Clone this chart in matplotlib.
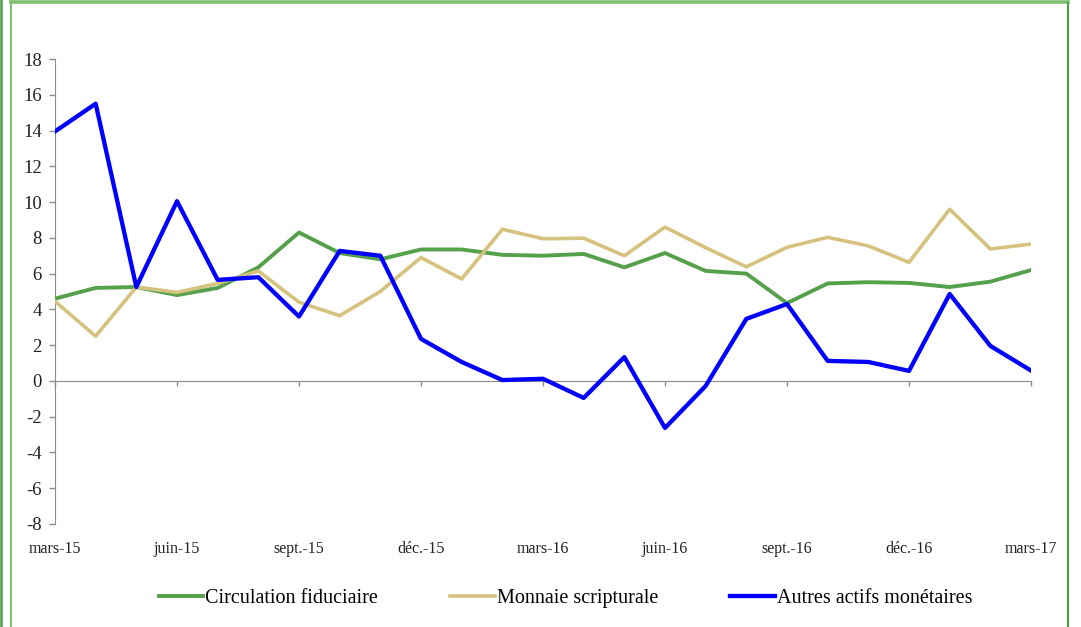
import matplotlib

matplotlib.use("Agg")

import matplotlib.pyplot as plt
from matplotlib.lines import Line2D

# monthly points, mars-15 .. mars-17
months = [
    "mars-15", "avr.-15", "mai-15", "juin-15", "juil.-15", "août-15", "sept.-15",
    "oct.-15", "nov.-15", "déc.-15", "janv.-16", "févr.-16", "mars-16", "avr.-16",
    "mai-16", "juin-16", "juil.-16", "août-16", "sept.-16", "oct.-16", "nov.-16",
    "déc.-16", "janv.-17", "févr.-17", "mars-17",
]
circulation = [
    4.6, 5.2, 5.25, 4.8, 5.2, 6.35, 8.3, 7.15, 6.8, 7.35, 7.35, 7.05, 7.0,
    7.1, 6.35, 7.15, 6.15, 6.0, 4.35, 5.45, 5.52, 5.48, 5.25, 5.55, 6.2,
]
scripturale = [
    4.45, 2.5, 5.25, 4.95, 5.45, 6.15, 4.4, 3.65, 5.0, 6.9, 5.7, 8.48, 7.95,
    7.98, 7.0, 8.6, 7.45, 6.38, 7.47, 8.03, 7.55, 6.63, 9.6, 7.38, 7.65,
]
autres = [
    13.95, 15.5, 5.25, 10.05, 5.65, 5.8, 3.6, 7.27, 7.0, 2.35, 1.06, 0.05, 0.12,
    -0.95, 1.33, -2.63, -0.28, 3.47, 4.3, 1.12, 1.06, 0.56, 4.86, 1.96, 0.58,
]
series_names = ["Circulation fiduciaire", "Monnaie scripturale", "Autres actifs monétaires"]

plt.rcParams["font.family"] = ["Liberation Serif", "DejaVu Serif"]
plt.rcParams["axes.unicode_minus"] = False

axis_grey = "#8c8c8c"

fig = plt.figure(figsize=(10.81, 6.27), dpi=100)
ax = fig.add_axes([55 / 1081, 1 - 524 / 627, (1031 - 55) / 1081, (524 - 59) / 627])

x = list(range(len(months)))
ax.plot(x, circulation, color="#55a04a", linewidth=2.8, label=series_names[0], zorder=3)
ax.plot(x, scripturale, color="#d6c27f", linewidth=2.6, label=series_names[1], zorder=3)
ax.plot(x, autres, color="#0000ff", linewidth=3.1, label=series_names[2], zorder=4)

ax.set_xlim(0, len(months) - 1)
ax.set_ylim(-8, 18)
ax.set_yticks(range(-8, 19, 2))

for side in ("top", "right"):
    ax.spines[side].set_visible(False)
ax.spines["left"].set_color(axis_grey)
ax.spines["bottom"].set_color(axis_grey)
ax.spines["bottom"].set_position(("data", 0))
ax.spines["bottom"].set_zorder(2)

ax.tick_params(axis="y", colors=axis_grey, labelcolor="#222222", labelsize=13.5,
               length=4.5, width=1, pad=5)
ax.set_xticks(x[::3])
ax.tick_params(axis="x", colors=axis_grey, length=3.5, width=1, labelbottom=False)

# month labels sit under the plot, not on the zero line
sec = ax.secondary_xaxis(0)
sec.set_xticks(x[::3])
sec.set_xticklabels(months[::3])
sec.spines["bottom"].set_visible(False)
sec.tick_params(length=0, pad=12, labelsize=11.5, labelcolor="#222222")

fig.legend(loc="center", bbox_to_anchor=(0.523, 0.046), ncol=3, frameon=False,
           prop={"family": ["Liberation Serif"], "size": 14.5},
           handlelength=2.2, handletextpad=0.1, columnspacing=3.6)

# green frame of the original panel
W, H = 1081, 627
fig.add_artist(Line2D([1.2 / W, 1.2 / W], [0, 1], transform=fig.transFigure,
                      color="#4c9a44", linewidth=1.8))
fig.add_artist(Line2D([11 / W, 11 / W], [0, 1 - 1 / H], transform=fig.transFigure,
                      color="#7dbf6e", linewidth=1.4))
fig.add_artist(Line2D([11 / W, 1068 / W], [1 - 1.6 / H, 1 - 1.6 / H], transform=fig.transFigure,
                      color="#7dbf6e", linewidth=2.6))
fig.add_artist(Line2D([1068 / W, 1068 / W], [0, 1 - 3 / H], transform=fig.transFigure,
                      color="#4e9e44", linewidth=1.5))

fig.savefig("out.png", dpi=100)
plt.close(fig)
